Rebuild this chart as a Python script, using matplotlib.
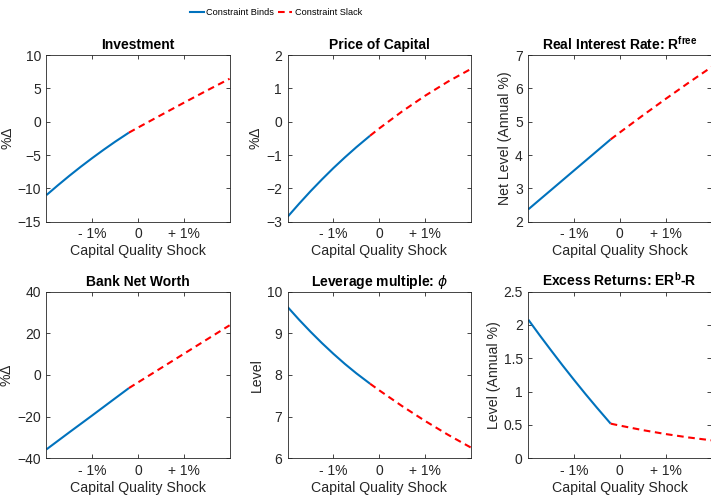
import matplotlib
matplotlib.use("Agg")
import matplotlib.pyplot as plt
from matplotlib.lines import Line2D
from matplotlib import font_manager

plt.rcParams['font.family'] = ['Liberation Sans', 'DejaVu Sans']
plt.rcParams['mathtext.fontset'] = 'custom'
plt.rcParams['mathtext.rm'] = 'Liberation Sans'
plt.rcParams['mathtext.bf'] = 'Liberation Sans:bold'
plt.rcParams['mathtext.it'] = 'DejaVu Sans:italic'

# Capital quality shock grid (percent), split where the constraint stops binding
shock_binds = [-2.0, -1.75, -1.5, -1.25, -1.0, -0.75, -0.5, -0.2]
shock_slack = [-0.2, 0.0, 0.5, 1.0, 1.5, 2.0]

investment_binds = [-11.0, -9.53, -8.11, -6.75, -5.45, -4.2, -3.0, -1.64]
investment_slack = [-1.64, -0.88, 0.99, 2.84, 4.66, 6.44]

price_binds = [-2.85, -2.46, -2.085, -1.73, -1.39, -1.07, -0.765, -0.42]
price_slack = [-0.42, -0.203, 0.308, 0.776, 1.201, 1.58]

rfree_binds = [2.37, 2.662, 2.953, 3.245, 3.537, 3.828, 4.12, 4.47]
rfree_slack = [4.47, 4.677, 5.186, 5.682, 6.166, 6.637]

networth_binds = [-35.7, -31.6, -27.5, -23.45, -19.4, -15.3, -11.2, -6.3]
networth_slack = [-6.3, -3.56, 3.29, 10.14, 16.99, 23.84]

leverage_binds = [9.63, 9.325, 9.037, 8.764, 8.507, 8.265, 8.04, 7.79]
leverage_slack = [7.79, 7.632, 7.253, 6.898, 6.567, 6.26]

excess_binds = [2.08, 1.845, 1.617, 1.393, 1.176, 0.964, 0.759, 0.52]
excess_slack = [0.52, 0.491, 0.423, 0.364, 0.313, 0.27]

titles = ['Investment', 'Price of Capital', r'Real Interest Rate: R$^{\mathbf{free}}$',
          'Bank Net Worth', r'Leverage multiple: $\phi$', r'Excess Returns: ER$^{\mathbf{b}}$-R']
ylabels = ['%$\\Delta$', '%$\\Delta$', 'Net Level (Annual %)',
           '%$\\Delta$', 'Level', 'Level (Annual %)']
ylims = [(-15, 10), (-3, 2), (2, 7), (-40, 40), (6, 10), (0, 2.5)]
yticks = [[-15, -10, -5, 0, 5, 10], [-3, -2, -1, 0, 1, 2], [2, 3, 4, 5, 6, 7],
          [-40, -20, 0, 20, 40], [6, 7, 8, 9, 10], [0, 0.5, 1, 1.5, 2, 2.5]]
yticklabels = [None, None, None, None, None, ['0', '0.5', '1', '1.5', '2', '2.5']]
binds = [investment_binds, price_binds, rfree_binds, networth_binds, leverage_binds, excess_binds]
slack = [investment_slack, price_slack, rfree_slack, networth_slack, leverage_slack, excess_slack]

xticks = [-1, 0, 1]
xticklabels = ['- 1%', '0', '+ 1%']

blue = '#0072BD'
red = '#FF0000'
axis_gray = '#262626'
dash = (0, (3.2, 2.2))

fig = plt.figure(figsize=(7.11, 4.98), dpi=100)

lefts = [0.0654, 0.4046, 0.7430]
bottoms = [0.5548, 0.0797]
width, height = 0.2575, 0.3347

for i in range(6):
    r, c = divmod(i, 3)
    ax = fig.add_axes([lefts[c], bottoms[r], width, height])
    ax.plot(shock_binds, binds[i], color=blue, lw=1.5, solid_capstyle='butt',
            solid_joinstyle='round')
    ax.plot(shock_slack, slack[i], color=red, lw=1.5, ls=dash)
    ax.set_xlim(-2, 2)
    ax.set_ylim(*ylims[i])
    ax.set_xticks(xticks)
    ax.set_xticklabels(xticklabels)
    ax.set_yticks(yticks[i])
    if yticklabels[i] is not None:
        ax.set_yticklabels(yticklabels[i])
    ax.tick_params(direction='in', length=3, width=0.6, top=True, right=True,
                   labelsize=10, colors=axis_gray, pad=4)
    for sp in ax.spines.values():
        sp.set_color(axis_gray)
        sp.set_linewidth(0.6)
    ax.set_title(titles[i], fontsize=10, fontweight='bold', pad=4, color='black')
    ax.set_xlabel('Capital Quality Shock', fontsize=10.2, color=axis_gray, labelpad=2)
    ax.set_ylabel(ylabels[i], fontsize=10.2, color=axis_gray, labelpad=2)

# Legend text uses a condensed face when available
narrow = [f.name for f in font_manager.fontManager.ttflist if f.name == 'Liberation Sans Narrow']
legend_family = ['Liberation Sans Narrow'] if narrow else ['Liberation Sans']
legend_size = 8.0 if narrow else 6.6

handles = [Line2D([], [], color=blue, lw=1.5),
           Line2D([], [], color=red, lw=1.5, ls=dash)]
fig.legend(handles, ['Constraint Binds', 'Constraint Slack'], loc='center',
           bbox_to_anchor=(0.388, 0.975), ncol=2, frameon=False,
           prop={'family': legend_family, 'size': legend_size},
           handlelength=1.5, handletextpad=0.25, columnspacing=0.5)

fig.savefig('out.png', dpi=100)
